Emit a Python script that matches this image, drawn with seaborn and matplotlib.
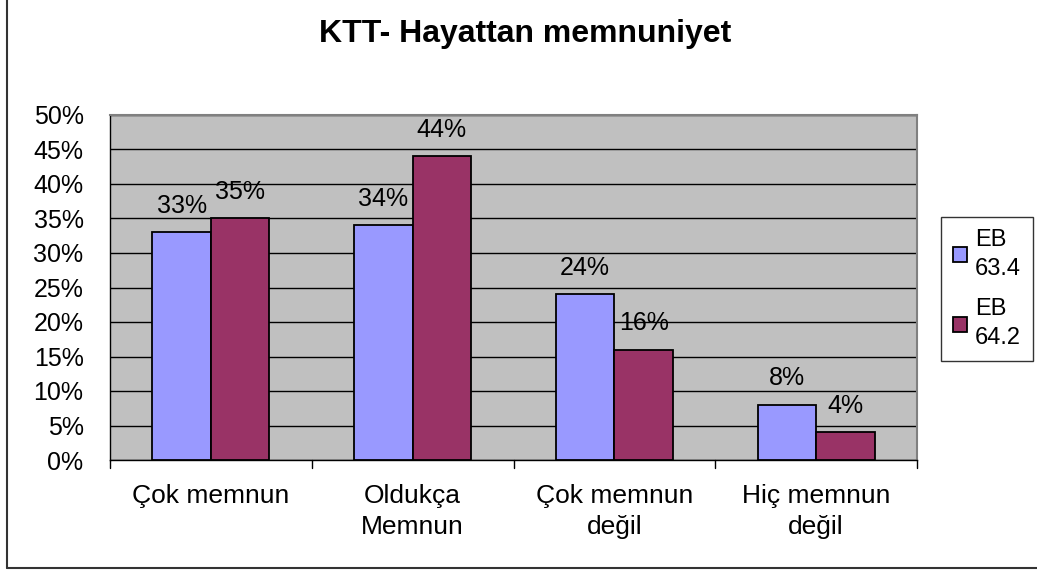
import matplotlib
matplotlib.use("Agg")
import matplotlib.pyplot as plt
import seaborn as sns
import pandas as pd
from matplotlib.lines import Line2D

categories = ["Çok memnun", "Oldukça\nMemnun", "Çok memnun\ndeğil", "Hiç memnun\ndeğil"]
series_names = ["EB\n63.4", "EB\n64.2"]
eb_634 = [33, 34, 24, 8]
eb_642 = [35, 44, 16, 4]
yticks = [0, 5, 10, 15, 20, 25, 30, 35, 40, 45, 50]

df = pd.DataFrame({
    "kategori": categories * 2,
    "seri": [series_names[0]] * 4 + [series_names[1]] * 4,
    "deger": eb_634 + eb_642,
})

sns.set_style("white")
plt.rcParams["font.family"] = ["Liberation Sans", "DejaVu Sans"]
plt.rcParams["text.color"] = "black"
plt.rcParams["xtick.color"] = "black"
plt.rcParams["ytick.color"] = "black"

fig = plt.figure(figsize=(10.37, 5.71), dpi=100)
ax = fig.add_axes([110 / 1037, 1 - 460 / 571, (917 - 110) / 1037, (460 - 115) / 571])
ax.set_facecolor("#C0C0C0")

sns.barplot(data=df, x="kategori", y="deger", hue="seri", order=categories,
            hue_order=series_names, palette=["#9999FF", "#993366"],
            width=0.58, gap=0, edgecolor="black", linewidth=1.3,
            saturation=1, ax=ax, zorder=3)

ax.set_ylim(0, 50)
ax.set_xlim(-0.5, 3.5)
ax.set_yticks(yticks)
ax.set_yticklabels([f"{v}%" for v in yticks], fontsize=18)
ax.tick_params(axis="y", length=8, width=1, color="black", pad=11)
ax.set_xticks([0, 1, 2, 3])
ax.set_xticklabels(categories, fontsize=19, linespacing=1.4)
ax.tick_params(axis="x", length=0, pad=17)
for xb in [-0.5, 0.5, 1.5, 2.5, 3.5]:
    ax.plot([xb, xb], [0, -0.023], transform=ax.get_xaxis_transform(),
            color="black", lw=1, clip_on=False)
ax.set_xlabel("")
ax.set_ylabel("")
ax.yaxis.grid(True, color="black", lw=1)
ax.set_axisbelow(True)

for side in ["top", "right"]:
    ax.spines[side].set_color("#808080")
    ax.spines[side].set_linewidth(1.5)
for side in ["left", "bottom"]:
    ax.spines[side].set_color("black")
    ax.spines[side].set_linewidth(1)

for cont in ax.containers:
    for bar in cont:
        h = bar.get_height()
        ax.annotate(f"{h:.0f}%", (bar.get_x() + bar.get_width() / 2, h),
                    xytext=(0, 19), textcoords="offset points",
                    ha="center", va="center", fontsize=18, zorder=5)

ax.legend_.remove()
handles = [plt.Rectangle((0, 0), 1, 1, facecolor=c, edgecolor="black", lw=1.3)
           for c in ["#9999FF", "#993366"]]
leg = fig.legend(handles, series_names, loc="upper left",
                 bbox_to_anchor=(941 / 1037, 1 - 217 / 571), fontsize=17,
                 frameon=True, fancybox=False, edgecolor="black",
                 handlelength=0.6, handleheight=0.6, handletextpad=0.35,
                 borderpad=0.5, labelspacing=0.8, borderaxespad=0)
leg.get_frame().set_linewidth(1)
for t in leg.get_texts():
    t.set_linespacing(1.4)

fig.text(525 / 1037, 1 - 34 / 571, "KTT- Hayattan memnuniyet",
         ha="center", va="center", fontsize=23, fontweight="bold")

fig.add_artist(Line2D([6.5 / 1037, 6.5 / 1037], [1, 1 - 568 / 571],
                      transform=fig.transFigure, color="#333333", lw=1.5))
fig.add_artist(Line2D([6.5 / 1037, 1], [1 - 568 / 571, 1 - 568 / 571],
                      transform=fig.transFigure, color="#333333", lw=1.5))

fig.savefig("out.png", dpi=100)
